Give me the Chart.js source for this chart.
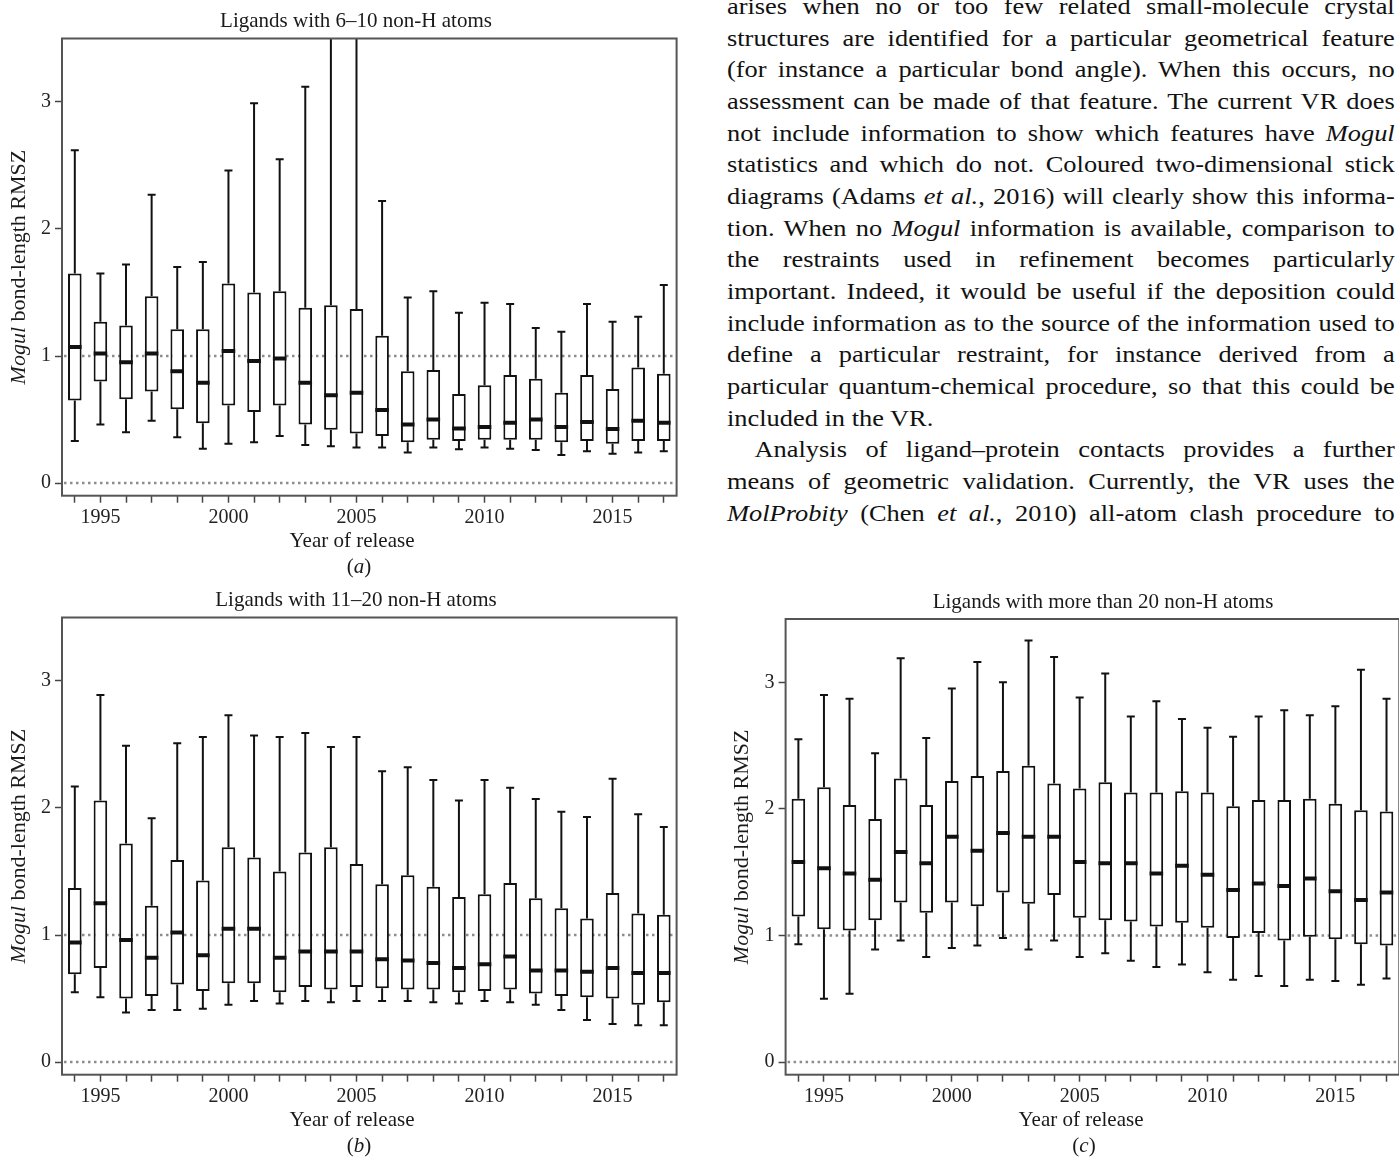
<!DOCTYPE html>
<html lang="en">
<head>
  <meta charset="UTF-8" />
  <title>Mogul bond-length RMSZ by year of release</title>
  <script src="https://cdn.jsdelivr.net/npm/chart.js"></script>
  <style>
    body {
      margin: 0;
      width: 1399px;
      height: 1159px;
      overflow: hidden;
      position: relative;
      background: #fff;
      font-family: "Liberation Serif", "DejaVu Serif", serif;
    }
    canvas { position: absolute; }
    /* body text to the right of panel (a) */
    .prose {
      position: absolute;
      left: 727px;
      top: -9px;
      width: 607px;
      font-family: "Liberation Serif", "DejaVu Serif", serif;
      font-size: 24px;
      color: #111;
      transform: scaleX(1.1);
      transform-origin: 0 0;
    }
    .prose .ln {
      height: 31.67px;
      line-height: 31.67px;
      text-align: justify;
      text-align-last: justify;
    }
    .prose .ln.last { text-align-last: left; }
    .prose .ln.indent { text-indent: 25px; }
  </style>
</head>
<body>
  <div class="prose">
    <div class="ln">arises when no or too few related small-molecule crystal</div>
    <div class="ln">structures are identified for a particular geometrical feature</div>
    <div class="ln">(for instance a particular bond angle). When this occurs, no</div>
    <div class="ln">assessment can be made of that feature. The current VR does</div>
    <div class="ln">not include information to show which features have <i>Mogul</i></div>
    <div class="ln">statistics and which do not. Coloured two-dimensional stick</div>
    <div class="ln">diagrams (Adams <i>et al.</i>, 2016) will clearly show this informa-</div>
    <div class="ln">tion. When no <i>Mogul</i> information is available, comparison to</div>
    <div class="ln">the restraints used in refinement becomes particularly</div>
    <div class="ln">important. Indeed, it would be useful if the deposition could</div>
    <div class="ln">include information as to the source of the information used to</div>
    <div class="ln">define a particular restraint, for instance derived from a</div>
    <div class="ln">particular quantum-chemical procedure, so that this could be</div>
    <div class="ln last">included in the VR.</div>
    <div class="ln indent">Analysis of ligand–protein contacts provides a further</div>
    <div class="ln">means of geometric validation. Currently, the VR uses the</div>
    <div class="ln"><i>MolProbity</i> (Chen <i>et al.</i>, 2010) all-atom clash procedure to</div>
  </div>

  <canvas id="chartA" width="700" height="585" style="left:0;top:0"></canvas>
  <canvas id="chartB" width="700" height="584" style="left:0;top:575px"></canvas>
  <canvas id="chartC" width="700" height="584" style="left:700px;top:575px"></canvas>

  <script>
    // Year of release (x categories) and y ticks
    const years = [1994, 1995, 1996, 1997, 1998, 1999, 2000, 2001, 2002, 2003, 2004, 2005,
                   2006, 2007, 2008, 2009, 2010, 2011, 2012, 2013, 2014, 2015, 2016, 2017];
    const yTicks = [0, 1, 2, 3];
    const refLines = [0, 1];

    // (a) ligands with 6-10 non-H atoms
    const titleA = 'Ligands with 6–10 non-H atoms';
    const minA = [0.33, 0.46, 0.40, 0.49, 0.36, 0.27, 0.31, 0.32, 0.37, 0.30, 0.29, 0.28,
                  0.28, 0.24, 0.28, 0.265, 0.28, 0.27, 0.26, 0.22, 0.25, 0.23, 0.24, 0.25];
    const q1A  = [0.65, 0.80, 0.66, 0.72, 0.58, 0.47, 0.61, 0.56, 0.61, 0.46, 0.42, 0.39,
                  0.37, 0.32, 0.34, 0.33, 0.34, 0.34, 0.34, 0.32, 0.33, 0.31, 0.33, 0.33];
    const medA = [1.07, 1.02, 0.95, 1.02, 0.88, 0.79, 1.04, 0.96, 0.98, 0.79, 0.69, 0.71,
                  0.575, 0.46, 0.50, 0.43, 0.44, 0.475, 0.50, 0.44, 0.48, 0.425, 0.49, 0.475];
    const q3A  = [1.65, 1.27, 1.24, 1.47, 1.21, 1.21, 1.57, 1.50, 1.51, 1.38, 1.40, 1.37,
                  1.16, 0.88, 0.89, 0.70, 0.77, 0.85, 0.82, 0.71, 0.85, 0.74, 0.91, 0.86];
    const maxA = [2.62, 1.65, 1.72, 2.27, 1.70, 1.74, 2.46, 2.99, 2.55, 3.12, 4.4, 4.8,
                  2.22, 1.46, 1.51, 1.34, 1.42, 1.41, 1.22, 1.19, 1.41, 1.27, 1.31, 1.56];

    // (b) ligands with 11-20 non-H atoms
    const titleB = 'Ligands with 11–20 non-H atoms';
    const minB = [0.55, 0.51, 0.39, 0.41, 0.41, 0.42, 0.45, 0.48, 0.46, 0.48, 0.47, 0.48,
                  0.48, 0.48, 0.47, 0.46, 0.48, 0.47, 0.45, 0.41, 0.33, 0.30, 0.29, 0.29];
    const q1B  = [0.69, 0.74, 0.50, 0.52, 0.61, 0.56, 0.62, 0.62, 0.55, 0.59, 0.57, 0.59,
                  0.58, 0.57, 0.57, 0.55, 0.56, 0.57, 0.54, 0.52, 0.51, 0.50, 0.45, 0.47];
    const medB = [0.94, 1.25, 0.96, 0.82, 1.02, 0.84, 1.05, 1.05, 0.82, 0.87, 0.87, 0.87,
                  0.81, 0.80, 0.78, 0.74, 0.77, 0.83, 0.72, 0.72, 0.71, 0.74, 0.70, 0.70];
    const q3B  = [1.37, 2.06, 1.72, 1.23, 1.59, 1.43, 1.69, 1.61, 1.50, 1.65, 1.69, 1.56,
                  1.40, 1.47, 1.38, 1.30, 1.32, 1.41, 1.29, 1.21, 1.13, 1.33, 1.17, 1.16];
    const maxB = [2.17, 2.89, 2.49, 1.92, 2.51, 2.56, 2.73, 2.57, 2.56, 2.59, 2.48, 2.56,
                  2.29, 2.32, 2.22, 2.06, 2.22, 2.16, 2.07, 1.97, 1.93, 2.23, 1.95, 1.85];

    // (c) ligands with more than 20 non-H atoms
    const titleC = 'Ligands with more than 20 non-H atoms';
    const minC = [0.93, 0.50, 0.54, 0.89, 0.96, 0.83, 0.90, 0.92, 0.98, 0.89, 0.96, 0.83,
                  0.86, 0.80, 0.75, 0.77, 0.71, 0.65, 0.68, 0.60, 0.65, 0.64, 0.61, 0.66];
    const q1C  = [1.15, 1.05, 1.04, 1.12, 1.26, 1.18, 1.26, 1.23, 1.34, 1.25, 1.32, 1.14,
                  1.12, 1.11, 1.07, 1.10, 1.06, 0.98, 1.02, 0.96, 0.99, 0.97, 0.93, 0.92];
    const medC = [1.58, 1.53, 1.49, 1.44, 1.66, 1.57, 1.78, 1.67, 1.81, 1.78, 1.78, 1.58,
                  1.57, 1.57, 1.49, 1.55, 1.48, 1.36, 1.41, 1.39, 1.45, 1.35, 1.28, 1.34];
    const q3C  = [2.08, 2.17, 2.03, 1.92, 2.24, 2.03, 2.22, 2.26, 2.30, 2.34, 2.20, 2.16,
                  2.21, 2.13, 2.13, 2.14, 2.13, 2.02, 2.07, 2.07, 2.08, 2.04, 1.99, 1.98];
    const maxC = [2.55, 2.90, 2.87, 2.44, 3.19, 2.56, 2.95, 3.16, 3.00, 3.33, 3.20, 2.88,
                  3.07, 2.73, 2.85, 2.71, 2.64, 2.57, 2.73, 2.78, 2.74, 2.81, 3.10, 2.87];

    const serif = '"Liberation Serif", "DejaVu Serif", serif';
    Chart.defaults.font.family = serif;
    Chart.defaults.color = '#222';

    // draw a row of text runs (some italic) centred on cx, cy
    function drawRuns(ctx, runs, cx, cy, size) {
      const fontOf = r => (r.italic ? 'italic ' : '') + size + 'px ' + serif;
      let total = 0;
      runs.forEach(r => { ctx.font = fontOf(r); total += ctx.measureText(r.text).width; });
      let x = cx - total / 2;
      ctx.textAlign = 'left';
      ctx.textBaseline = 'middle';
      runs.forEach(r => {
        ctx.font = fontOf(r);
        ctx.fillText(r.text, x, cy);
        x += ctx.measureText(r.text).width;
      });
    }

    // whiskers, medians, reference lines, frame and panel texts
    const boxExtras = {
      id: 'boxExtras',
      beforeDatasetsDraw(chart) {
        const { ctx, chartArea: a, scales: { y } } = chart;
        ctx.save();
        ctx.strokeStyle = '#8d8d8d';
        ctx.lineWidth = 2.5;
        ctx.setLineDash([2.5, 3.5]);
        refLines.forEach(v => {
          const py = y.getPixelForValue(v);
          ctx.beginPath();
          ctx.moveTo(a.left + 2, py);
          ctx.lineTo(a.right - 2, py);
          ctx.stroke();
        });
        ctx.restore();
      },
      afterDatasetsDraw(chart, args, opts) {
        const { ctx, chartArea: a, scales: { x, y } } = chart;
        const s = opts.stats;
        ctx.save();
        ctx.beginPath();
        ctx.rect(a.left, a.top, a.right - a.left, a.bottom - a.top);
        ctx.clip();
        ctx.strokeStyle = '#111';
        s.min.forEach((lo, i) => {
          const cx = x.getPixelForValue(i);
          const pMin = y.getPixelForValue(lo);
          const pQ1 = y.getPixelForValue(s.q1[i]);
          const pQ3 = y.getPixelForValue(s.q3[i]);
          const pMax = y.getPixelForValue(s.max[i]);
          const pMed = y.getPixelForValue(s.med[i]);
          ctx.lineWidth = 2;
          ctx.beginPath();
          ctx.moveTo(cx, pQ3); ctx.lineTo(cx, pMax);
          ctx.moveTo(cx, pQ1); ctx.lineTo(cx, pMin);
          ctx.moveTo(cx - 4, pMax); ctx.lineTo(cx + 4, pMax);
          ctx.moveTo(cx - 4, pMin); ctx.lineTo(cx + 4, pMin);
          ctx.stroke();
          const half = chart.getDatasetMeta(0).data[i].width / 2;
          ctx.lineWidth = 4;
          ctx.beginPath();
          ctx.moveTo(cx - half, pMed); ctx.lineTo(cx + half, pMed);
          ctx.stroke();
        });
        ctx.restore();
      },
      afterDraw(chart, args, opts) {
        const { ctx, chartArea: a } = chart;
        ctx.save();
        // plot frame
        ctx.strokeStyle = '#555';
        ctx.lineWidth = 2;
        ctx.strokeRect(a.left, a.top, a.right - a.left, a.bottom - a.top);
        ctx.fillStyle = '#1a1a1a';
        drawRuns(ctx, [{ text: opts.title }], opts.titleX, a.top - 17, 21);
        drawRuns(ctx, [{ text: 'Year of release' }], opts.xTitleX, a.bottom + 46, 21);
        drawRuns(ctx, [{ text: '(' }, { text: opts.letter, italic: true }, { text: ')' }],
                 opts.letterX, a.bottom + 72, 21);
        // y-axis title with italic "Mogul"
        ctx.translate(a.left - 43, (a.top + a.bottom) / 2);
        ctx.rotate(-Math.PI / 2);
        drawRuns(ctx, [{ text: 'Mogul', italic: true }, { text: ' bond-length RMSZ' }], 0, 0, 22);
        ctx.restore();
      }
    };

    function makePanel(id, stats, look) {
      new Chart(document.getElementById(id), {
        type: 'bar',
        data: {
          labels: years,
          datasets: [{
            data: stats.q1.map((lo, i) => [lo, stats.q3[i]]),
            backgroundColor: '#fff',
            borderColor: '#111',
            borderWidth: 2,
            borderSkipped: false,
            barPercentage: 0.53,
            categoryPercentage: 1
          }]
        },
        options: {
          responsive: false,
          animation: false,
          devicePixelRatio: 1,
          layout: { padding: look.padding },
          plugins: {
            legend: { display: false },
            tooltip: { enabled: false },
            boxExtras: {
              stats: stats,
              title: look.title,
              letter: look.letter,
              titleX: look.titleX,
              xTitleX: look.xTitleX,
              letterX: look.letterX
            }
          },
          scales: {
            x: {
              offset: true,
              border: { display: false },
              grid: {
                offset: false,
                drawOnChartArea: false,
                drawTicks: true,
                tickLength: 7,
                tickWidth: 1.5,
                tickColor: '#444'
              },
              ticks: {
                autoSkip: false,
                maxRotation: 0,
                padding: 3,
                color: '#222',
                font: { size: 20 },
                callback: (v, i) => (years[i] % 5 === 0 ? String(years[i]) : '')
              },
              afterFit: s => { s.height = 30; }
            },
            y: {
              min: -0.1,
              max: 3.5,
              border: { display: false },
              afterBuildTicks: s => { s.ticks = yTicks.map(v => ({ value: v })); },
              grid: {
                drawOnChartArea: false,
                drawTicks: true,
                tickLength: 7,
                tickWidth: 1.5,
                tickColor: '#444'
              },
              ticks: { padding: 4, color: '#222', font: { size: 20 } },
              afterFit: s => { s.width = 62; }
            }
          }
        },
        plugins: [boxExtras]
      });
    }

    makePanel('chartA', { min: minA, q1: q1A, med: medA, q3: q3A, max: maxA }, {
      title: titleA, letter: 'a', titleX: 356, xTitleX: 352, letterX: 359,
      padding: { left: 0, top: 38.5, right: 23.4, bottom: 59.3 }
    });
    makePanel('chartB', { min: minB, q1: q1B, med: medB, q3: q3B, max: maxB }, {
      title: titleB, letter: 'b', titleX: 356, xTitleX: 352, letterX: 359,
      padding: { left: 0, top: 42.5, right: 23.4, bottom: 54.3 }
    });
    makePanel('chartC', { min: minC, q1: q1C, med: medC, q3: q3C, max: maxC }, {
      title: titleC, letter: 'c', titleX: 403, xTitleX: 381, letterX: 384,
      padding: { left: 23.6, top: 44, right: 0.7, bottom: 54.3 }
    });
  </script>
</body>
</html>
